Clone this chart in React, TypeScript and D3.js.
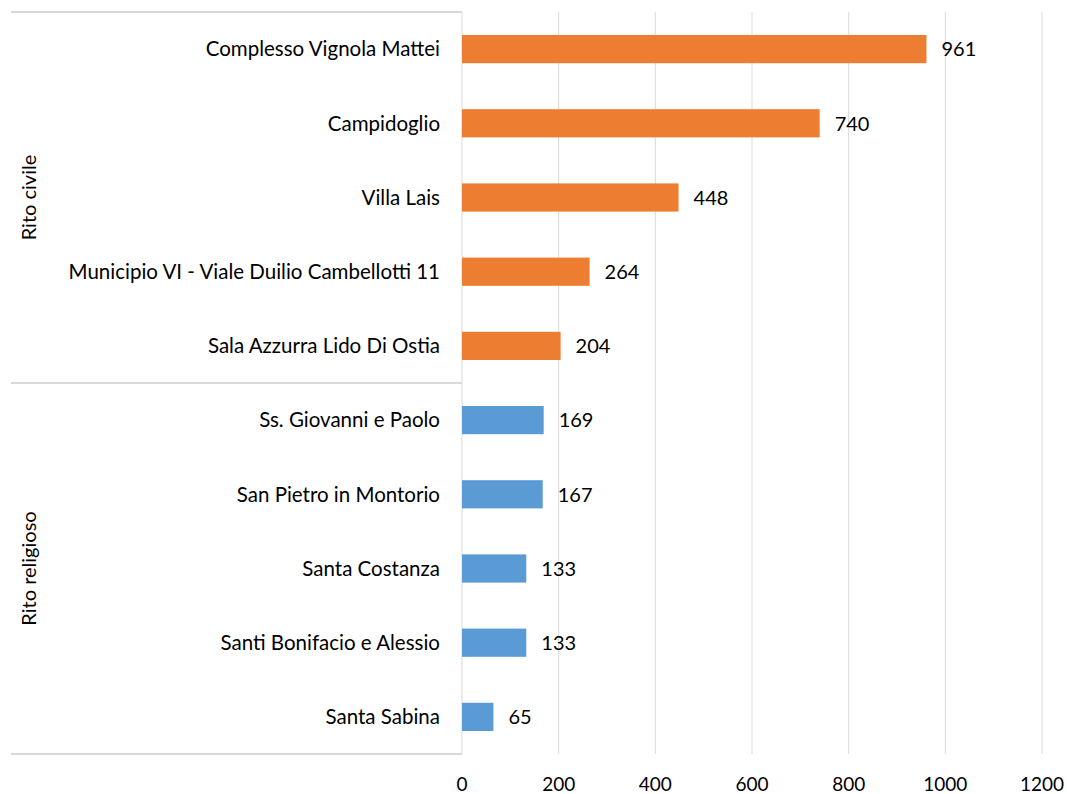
import React from "react";
import { scaleLinear, scaleBand } from "d3";

// values, top to bottom
const civilLabels = [
  "Complesso Vignola Mattei",
  "Campidoglio",
  "Villa Lais",
  "Municipio VI - Viale Duilio Cambellotti 11",
  "Sala Azzurra Lido Di Ostia",
];
const civilValues = [961, 740, 448, 264, 204];

const religiousLabels = [
  "Ss. Giovanni e Paolo",
  "San Pietro in Montorio",
  "Santa Costanza",
  "Santi Bonifacio e Alessio",
  "Santa Sabina",
];
const religiousValues = [169, 167, 133, 133, 65];

const groupNames = ["Rito civile", "Rito religioso"];
const ticks = [0, 200, 400, 600, 800, 1000, 1200];

const colors = ["#ED7D31", "#5B9BD5"];

const App = () => {
  const width = 1067;
  const height = 794;
  const top = 12;
  const bottom = 754;
  const left = 462;
  const right = 1042;
  const groupLeft = 11;

  const rows = [
    ...civilLabels.map((l, i) => ({ label: l, value: civilValues[i], group: 0 })),
    ...religiousLabels.map((l, i) => ({ label: l, value: religiousValues[i], group: 1 })),
  ];

  const xScale = scaleLinear().domain([0, 1200]).range([left, right]);
  const yScale = scaleBand()
    .domain(rows.map((r) => r.label))
    .range([top, bottom])
    .paddingInner(0.62)
    .paddingOuter(0.31);
  const band = yScale.step();

  const font = "Lato, 'Open Sans', sans-serif";

  const gridLines = ticks.map((t) => (
    <g key={t}>
      <line x1={xScale(t)} x2={xScale(t)} y1={top} y2={bottom} stroke="#D9D9D9" strokeWidth={1} />
      <text x={xScale(t)} y={791} textAnchor="middle" fontSize={19} fill="#000" fontFamily={font}>
        {t}
      </text>
    </g>
  ));

  const bars = rows.map((r) => (
    <g key={r.label}>
      <rect
        x={xScale(0)}
        y={yScale(r.label)}
        width={xScale(r.value) - xScale(0)}
        height={yScale.bandwidth()}
        fill={colors[r.group]}
      />
      <text
        x={xScale(r.value) + 15}
        y={(yScale(r.label) ?? 0) + yScale.bandwidth() / 2}
        dy="0.36em"
        fontSize={20}
        fontFamily={font}
        fill="#000"
      >
        {r.value}
      </text>
      <text
        x={left - 22}
        y={(yScale(r.label) ?? 0) + yScale.bandwidth() / 2}
        dy="0.36em"
        textAnchor="end"
        fontSize={20.5}
        fontFamily={font}
        fill="#000"
      >
        {r.label}
      </text>
    </g>
  ));

  // group separators on the category axis
  const sepY = [top, top + band * civilLabels.length, bottom];
  const separators = sepY.map((y, i) => (
    <line key={i} x1={groupLeft} x2={left} y1={y} y2={y} stroke="#D9D9D9" strokeWidth={2} />
  ));

  const groupText = groupNames.map((g, i) => {
    const cy = (sepY[i] + sepY[i + 1]) / 2;
    return (
      <text
        key={g}
        transform={`translate(36,${cy}) rotate(-90)`}
        textAnchor="middle"
        fontSize={20}
        fontFamily={font}
        fill="#000"
      >
        {g}
      </text>
    );
  });

  return (
    <svg
      width={width}
      height={height}
      viewBox={`0 0 ${width} ${height}`}
      style={{ position: "absolute", left: 0, top: 0, background: "#fff" }}
    >
      {gridLines}
      {separators}
      {bars}
      {groupText}
    </svg>
  );
};

export default App;
